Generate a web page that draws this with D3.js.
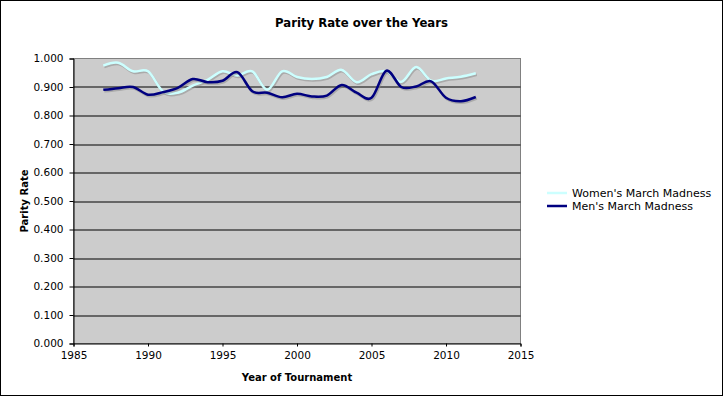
<!DOCTYPE html>
<html>
<head>
<meta charset="utf-8">
<script src="https://cdnjs.cloudflare.com/ajax/libs/d3/7.8.5/d3.min.js"></script>
<style>
  body { margin: 0; background: #fff; }
  text { font-family: "DejaVu Sans", Verdana, sans-serif; fill: #000; }
</style>
</head>
<body>
<div id="chart"></div>
<script>
// 데이터
const years = d3.range(1987, 2013);
const womenRates = [0.975, 0.985, 0.955, 0.955, 0.885, 0.880, 0.905, 0.925, 0.955, 0.940,
                    0.955, 0.890, 0.955, 0.935, 0.928, 0.935, 0.960, 0.917, 0.945, 0.955,
                    0.918, 0.970, 0.922, 0.930, 0.936, 0.948];
const menRates = [0.890, 0.896, 0.900, 0.873, 0.882, 0.897, 0.928, 0.917, 0.922, 0.952,
                  0.885, 0.880, 0.864, 0.876, 0.867, 0.870, 0.907, 0.880, 0.862, 0.957,
                  0.900, 0.902, 0.920, 0.862, 0.850, 0.865];
const xTicks = [1985, 1990, 1995, 2000, 2005, 2010, 2015];
const yTicks = [0, 0.1, 0.2, 0.3, 0.4, 0.5, 0.6, 0.7, 0.8, 0.9, 1.0];
const seriesNames = ["Women's March Madness", "Men's March Madness"];
const seriesColors = ["#ccffff", "#000080"];

const svgWidth = 723, svgHeight = 397;
const margin = {top: 58.5, right: 202.5, bottom: 53.5, left: 73.5};
const width = svgWidth - margin.left - margin.right;
const height = svgHeight - margin.top - margin.bottom;

const svg = d3.select("#chart").append("svg")
    .attr("width", svgWidth)
    .attr("height", svgHeight);

// 바깥 테두리
svg.append("rect")
    .attr("x", 0.5).attr("y", 0.5)
    .attr("width", svgWidth - 1).attr("height", svgHeight - 2)
    .attr("fill", "#fff")
    .attr("stroke", "#000");

// 제목 (차트 전체 가운데)
svg.append("text")
    .attr("x", svgWidth / 2)
    .attr("y", 27)
    .attr("text-anchor", "middle")
    .style("font-size", "11.7px")
    .style("font-weight", "bold")
    .text("Parity Rate over the Years");

const g = svg.append("g")
    .attr("transform", `translate(${margin.left},${margin.top})`);

const x = d3.scaleLinear().domain([1985, 2015]).range([0, width]);
const y = d3.scaleLinear().domain([0, 1]).range([height, 0]);

// 플롯 영역
g.append("rect")
    .attr("width", width).attr("height", height)
    .attr("fill", "#cccccc")
    .attr("stroke", "#808080");

// 격자선
g.selectAll(".grid")
    .data(yTicks.filter(d => d > 0 && d < 1))
    .enter().append("line")
    .attr("x1", 0).attr("x2", width)
    .attr("y1", d => Math.round(y(d)) + 0.5)
    .attr("y2", d => Math.round(y(d)) + 0.5)
    .attr("stroke", "#000");

// 축
const yAxis = g.append("g")
    .call(d3.axisLeft(y).tickValues(yTicks).tickFormat(d3.format(".3f")).tickSizeOuter(0).tickSize(4).tickPadding(6));
const xAxis = g.append("g")
    .attr("transform", `translate(0,${height})`)
    .call(d3.axisBottom(x).tickValues(xTicks).tickFormat(d3.format("d")).tickSizeOuter(0).tickSize(3).tickPadding(5));

[yAxis, xAxis].forEach(a => {
    a.select(".domain").attr("stroke", "#000");
    a.selectAll(".tick line").attr("stroke", "#000");
    a.selectAll(".tick text").style("font-size", "10.5px").style("font-family", "DejaVu Sans, Verdana, sans-serif").attr("fill", "#000");
});

// 축 제목
svg.append("text")
    .attr("x", margin.left + width / 2)
    .attr("y", 381)
    .attr("text-anchor", "middle")
    .style("font-size", "10px")
    .style("font-weight", "bold")
    .text("Year of Tournament");

svg.append("text")
    .attr("transform", `translate(28,${margin.top + height / 2}) rotate(-90)`)
    .attr("text-anchor", "middle")
    .style("font-size", "10px")
    .style("font-weight", "bold")
    .text("Parity Rate");

// 선
const line = d3.line()
    .x((d, i) => x(years[i]))
    .y(d => y(d))
    .curve(d3.curveCardinal.tension(0));

[womenRates, menRates].forEach((series, i) => {
    g.append("path")
        .datum(series)
        .attr("fill", "none")
        .attr("stroke", "#888")
        .attr("stroke-opacity", 0.5)
        .attr("stroke-width", 2.5)
        .attr("transform", "translate(1,1.5)")
        .attr("d", line);
    g.append("path")
        .datum(series)
        .attr("fill", "none")
        .attr("stroke", seriesColors[i])
        .attr("stroke-width", 2.5)
        .attr("d", line);
});

// 범례
const legend = svg.append("g")
    .attr("transform", "translate(547,193)");
seriesNames.forEach((name, i) => {
    legend.append("line")
        .attr("x1", 0).attr("x2", 20)
        .attr("y1", i * 13).attr("y2", i * 13)
        .attr("stroke", seriesColors[i])
        .attr("stroke-width", 2.5);
    legend.append("text")
        .attr("x", 25)
        .attr("y", i * 13 + 4)
        .style("font-size", "11px")
        .text(name);
});
</script>
</body>
</html>
